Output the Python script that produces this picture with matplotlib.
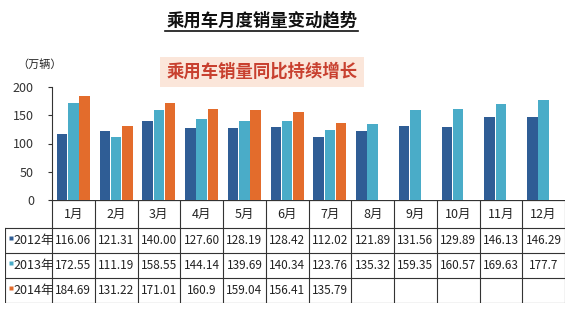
import numpy as np
import matplotlib
matplotlib.use('Agg')
from matplotlib import pyplot as plt

plt.rcParams['font.family'] = ['Noto Sans CJK SC', 'DejaVu Sans']

months = ['1月', '2月', '3月', '4月', '5月', '6月', '7月', '8月', '9月', '10月', '11月', '12月']
years = ['2012年', '2013年', '2014年']
sales_2012 = [116.06, 121.31, 140.00, 127.60, 128.19, 128.42, 112.02, 121.89, 131.56, 129.89, 146.13, 146.29]
sales_2013 = [172.55, 111.19, 158.55, 144.14, 139.69, 140.34, 123.76, 135.32, 159.35, 160.57, 169.63, 177.7]
sales_2014 = [184.69, 131.22, 171.01, 160.9, 159.04, 156.41, 135.79]
# how the numbers are printed in the table
labels_2012 = ['116.06', '121.31', '140.00', '127.60', '128.19', '128.42', '112.02', '121.89', '131.56', '129.89', '146.13', '146.29']
labels_2013 = ['172.55', '111.19', '158.55', '144.14', '139.69', '140.34', '123.76', '135.32', '159.35', '160.57', '169.63', '177.7']
labels_2014 = ['184.69', '131.22', '171.01', '160.9', '159.04', '156.41', '135.79', '', '', '', '', '']

colors = ['#2f5d95', '#4aacc8', '#e36c2c']

W, H = 570, 310
fig = plt.figure(figsize=(W / 100, H / 100), dpi=100)

def fx(px):
    return px / W

def fy(py):
    return 1 - py / H

# bar chart
ax = fig.add_axes([fx(52), fy(200), fx(565) - fx(52), fy(87) - fy(200)])
x = np.arange(len(months))
series = [sales_2012, sales_2013, sales_2014]
offsets = [-0.265, 0.0, 0.265]
for vals, off, c in zip(series, offsets, colors):
    v = np.full(len(months), np.nan)
    v[:len(vals)] = vals
    ax.bar(x + off, v, width=0.245, color=c, edgecolor='none')
ax.set_xlim(-0.5, 11.5)
ax.set_ylim(0, 200)
ax.set_yticks([0, 50, 100, 150, 200])
ax.set_xticks([])
for s in ['top', 'right', 'bottom']:
    ax.spines[s].set_visible(False)
ax.spines['left'].set_color('#333333')
ax.spines['left'].set_linewidth(0.8)
ax.tick_params(axis='y', length=3, width=0.8, labelsize=9, colors='#333333', pad=10)

# table under the bars
tab = fig.add_axes([fx(5), fy(303), fx(565) - fx(5), fy(200) - fy(303)])
left_edge = -0.5 - (52 - 5) / ((565 - 52) / 12)
tab.set_xlim(left_edge, 11.5)
tab.set_ylim(303, 200)
tab.axis('off')
rows = [200, 228, 253, 278, 303]
lc = '#333333'
# month row
tab.plot([-0.5, 11.5], [rows[0], rows[0]], color=lc, lw=0.9)
for i in range(13):
    tab.plot([i - 0.5, i - 0.5], [rows[0], rows[4]], color=lc, lw=0.8)
tab.plot([left_edge, left_edge], [rows[1], rows[4]], color=lc, lw=0.8)
for r in rows[1:]:
    tab.plot([left_edge, 11.5], [r, r], color=lc, lw=0.8)
for i, m in enumerate(months):
    tab.text(i, (rows[0] + rows[1]) / 2, m, ha='center', va='center', fontsize=9, color='#222222')
table_rows = [labels_2012, labels_2013, labels_2014]
for k, (yr, labs, c) in enumerate(zip(years, table_rows, colors)):
    yc = (rows[k + 1] + rows[k + 2]) / 2
    tab.plot(left_edge + 0.13, yc - 3, marker='s', ms=3.5, color=c, mec='none')
    tab.text(left_edge + 0.2, yc, yr, ha='left', va='center', fontsize=9, color='#222222')
    for i, s in enumerate(labs):
        tab.text(i, yc, s, ha='center', va='center', fontsize=8.5, color='#222222')

# titles
fig.text(fx(262), fy(20), '乘用车月度销量变动趋势', ha='center', va='center',
         fontsize=12.5, fontweight='bold', color='#111111')
fig.add_artist(plt.Line2D([fx(165), fx(358)], [fy(31), fy(31)], color='#111111', lw=1.2))
fig.text(fx(262), fy(72), '乘用车销量同比持续增长', ha='center', va='center',
         fontsize=12.5, fontweight='bold', color='#c8402f',
         bbox=dict(boxstyle='square,pad=0.35', facecolor='#fbe6da', edgecolor='none'))
fig.text(fx(40), fy(65), '（万辆）', ha='center', va='center', fontsize=8, color='#222222')

fig.savefig('out.png', dpi=100)
